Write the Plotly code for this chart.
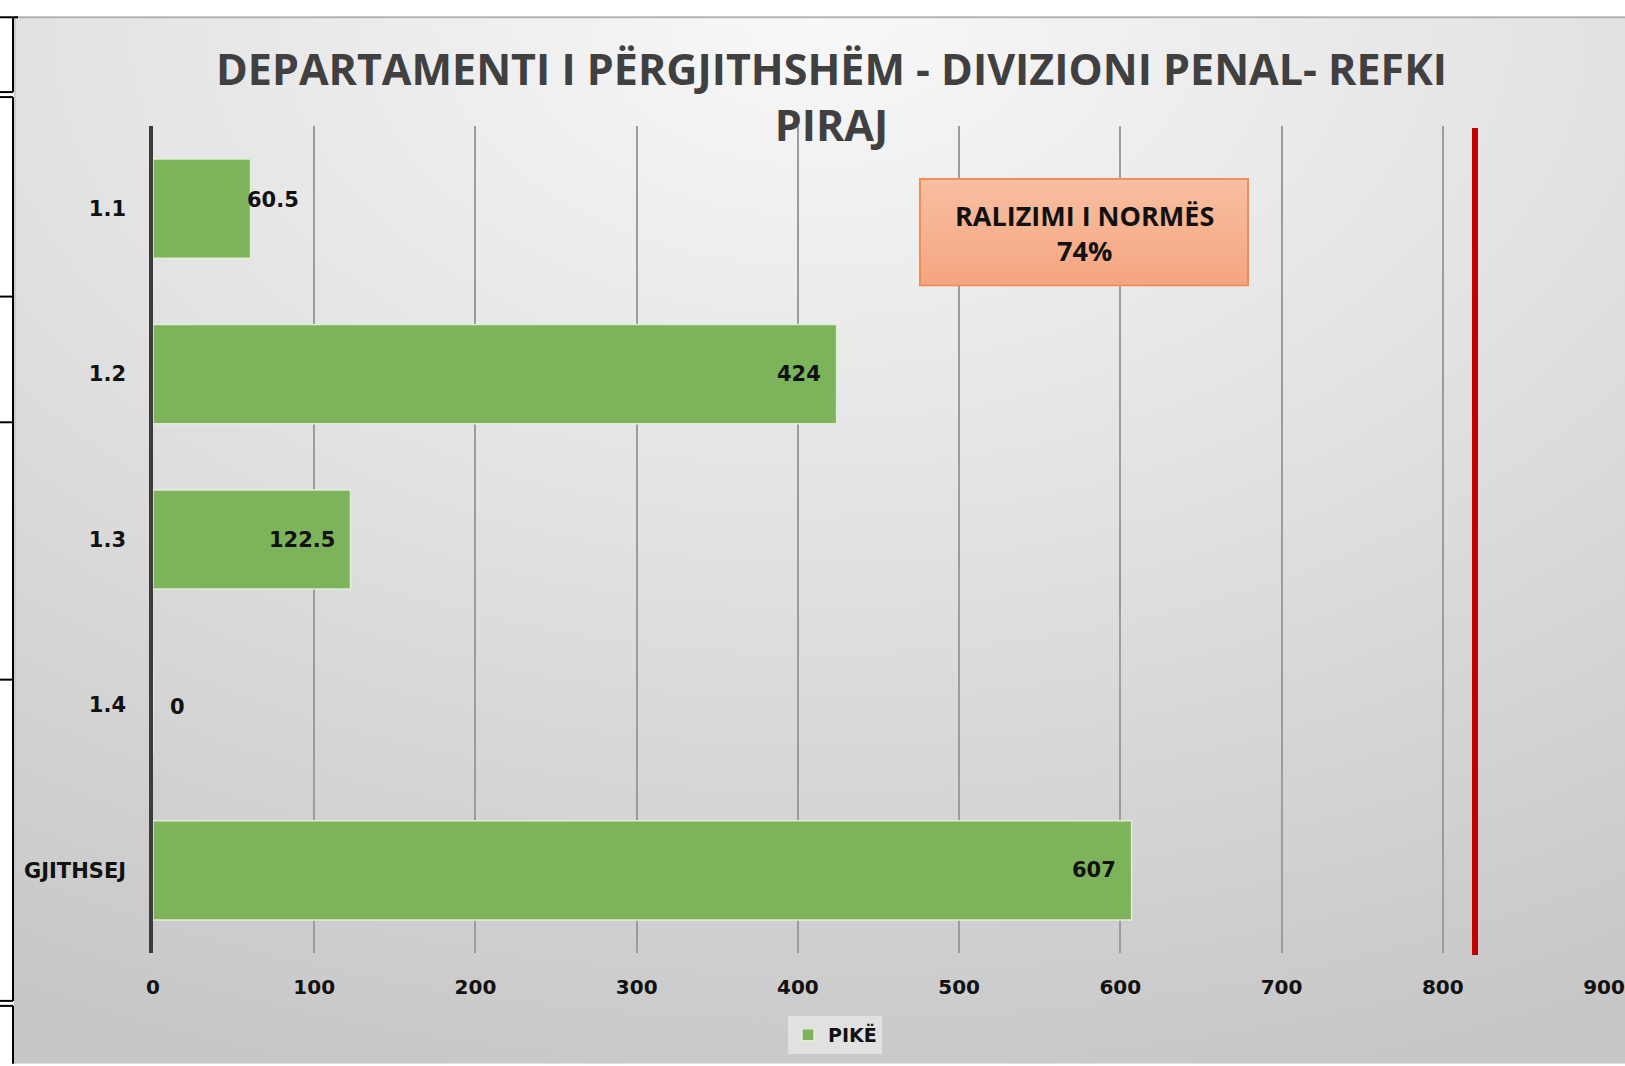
import base64
import plotly.graph_objects as go

# ---------------- data ----------------
categories = ["1.1", "1.2", "1.3", "1.4", "GJITHSEJ"]
values = [60.5, 424, 122.5, 0, 607]
value_labels = ["60.5", "424", "122.5", "0", "607"]
series_name = "PIKË"
norm_value = 820
x_ticks = [0, 100, 200, 300, 400, 500, 600, 700, 800, 900]
title_text = "DEPARTAMENTI I PËRGJITHSHËM - DIVIZIONI PENAL- REFKI<br>PIRAJ"
box_text = "RALIZIMI I NORMËS<br>74%"

# ---------------- geometry ----------------
W, H = 1625, 1066
L, R, T, B = 153, 1604, 126, 955


def px(x):
    return (x - L) / (R - L)


def py(y):
    return (B - y) / (B - T)


def svg_uri(svg):
    return "data:image/svg+xml;base64," + base64.b64encode(svg.encode("utf-8")).decode("ascii")


bg_svg = """<svg xmlns='http://www.w3.org/2000/svg' width='1611' height='1049' viewBox='0 0 1611 1049' preserveAspectRatio='none'>
<defs><radialGradient id='g' cx='0.5' cy='0' r='1.05' fx='0.5' fy='0'>
<stop offset='0' stop-color='#f8f8f8'/><stop offset='0.45' stop-color='#e3e3e3'/><stop offset='1' stop-color='#c7c7c7'/>
</radialGradient></defs>
<rect x='0' y='0' width='1611' height='1049' fill='url(#g)'/></svg>"""

box_svg = """<svg xmlns='http://www.w3.org/2000/svg' width='330' height='109' viewBox='0 0 330 109' preserveAspectRatio='none'>
<defs><linearGradient id='b' x1='0' y1='0' x2='0' y2='1'>
<stop offset='0' stop-color='#f8bfa2'/><stop offset='1' stop-color='#f4a57f'/></linearGradient></defs>
<rect x='1' y='1' width='328' height='107' fill='url(#b)' stroke='#f08c55' stroke-width='2'/></svg>"""

fig = go.Figure()

fig.add_trace(go.Bar(
    y=categories,
    x=values,
    orientation="h",
    name=series_name,
    marker=dict(color="#7db35a", line=dict(color="rgba(225,240,215,0.95)", width=1.5)),
    width=0.6,
    hoverinfo="x+y",
))

# data labels (y given as category index)
label_pos = ["outside", "inside", "inside", "outside", "inside"]
label_font = dict(family="DejaVu Sans", size=21, color="#111111", weight="bold")
for i, (val, lab, pos) in enumerate(zip(values, value_labels, label_pos)):
    if pos == "inside":
        fig.add_annotation(x=val, y=i, text=lab, showarrow=False, xanchor="right",
                           xshift=-14, font=label_font)
    else:
        fig.add_annotation(x=val, y=i, text=lab, showarrow=False, xanchor="left",
                           xshift=(-6 if val > 0 else 15), yshift=(9 if val > 0 else -2),
                           font=label_font)

# norm line
fig.add_shape(type="line", xref="x", yref="paper", x0=norm_value, x1=norm_value,
              y0=py(957), y1=py(128), line=dict(color="#c00000", width=6), layer="above")

# text box
fig.add_layout_image(source=svg_uri(box_svg), xref="paper", yref="paper",
                     x=px(919), y=py(178), sizex=px(1249) - px(919), sizey=py(178) - py(287),
                     xanchor="left", yanchor="top", sizing="stretch", layer="above")
fig.add_annotation(xref="paper", yref="paper", x=px(1084), y=py(233), text=box_text,
                   showarrow=False, xanchor="center", yanchor="middle",
                   font=dict(family="Open Sans", size=27, color="#111111", weight="bold"))

# title
fig.add_annotation(xref="paper", yref="paper", x=px(831), y=py(96), text=title_text,
                   showarrow=False, xanchor="center", yanchor="middle",
                   font=dict(family="Open Sans", size=43, color="#404040", weight="bold"))

# background
fig.add_layout_image(source=svg_uri(bg_svg), xref="paper", yref="paper",
                     x=px(14), y=py(17), sizex=px(1625) - px(14), sizey=py(17) - py(1066),
                     xanchor="left", yanchor="top", sizing="stretch", layer="below")

# chart border
fig.add_shape(type="line", xref="paper", yref="paper", x0=px(14), x1=px(1625), y0=py(17), y1=py(17),
              line=dict(color="#b4b4b4", width=2))
fig.add_shape(type="line", xref="paper", yref="paper", x0=px(15), x1=px(15), y0=py(17), y1=py(1066),
              line=dict(color="#c4c4c4", width=1.5))

# table borders peeking at the left edge
black = dict(color="#000000", width=2)
for (x0, y0, x1, y1) in [(0, 17, 18, 17), (13, 17, 13, 92), (0, 92, 13, 92), (0, 97, 13, 97),
                         (13, 97, 13, 1003), (0, 297, 13, 297), (0, 423, 13, 423), (0, 681, 13, 681),
                         (0, 1003, 13, 1003), (0, 1008, 13, 1008), (13, 1008, 13, 1066)]:
    fig.add_shape(type="line", xref="paper", yref="paper", x0=px(x0), x1=px(x1), y0=py(y0), y1=py(y1),
                  line=black)

fig.update_layout(
    width=W, height=H,
    margin=dict(l=L, r=W - R, t=T, b=H - B, pad=0),
    paper_bgcolor="#ffffff",
    plot_bgcolor="rgba(0,0,0,0)",
    bargap=0.4,
    showlegend=True,
    legend=dict(orientation="h", x=px(835), xanchor="center", y=py(1018), yanchor="top",
                bgcolor="rgba(232,232,232,0.75)", borderwidth=0,
                font=dict(family="DejaVu Sans", size=19, color="#111111", weight="bold"),
                itemwidth=30),
    xaxis=dict(range=[0, 900], tickvals=x_ticks, ticktext=[str(v) for v in x_ticks],
               showgrid=True, gridcolor="#9c9c9c", gridwidth=1.5, zeroline=False,
               showline=False, ticks="", ticklabelstandoff=20, automargin=False,
               tickfont=dict(family="DejaVu Sans", size=20, color="#111111", weight="bold")),
    yaxis=dict(type="category", categoryorder="array", categoryarray=categories, autorange="reversed",
               showgrid=False, zeroline=False, showline=True, linecolor="#3c3c3c", linewidth=3.5,
               ticks="", ticklabelstandoff=19, automargin=False,
               tickfont=dict(family="DejaVu Sans", size=21, color="#111111", weight="bold")),
)

fig.write_html("out.html", config={"displayModeBar": False},
               post_script="document.body.style.margin='0';document.body.style.overflow='hidden';")
